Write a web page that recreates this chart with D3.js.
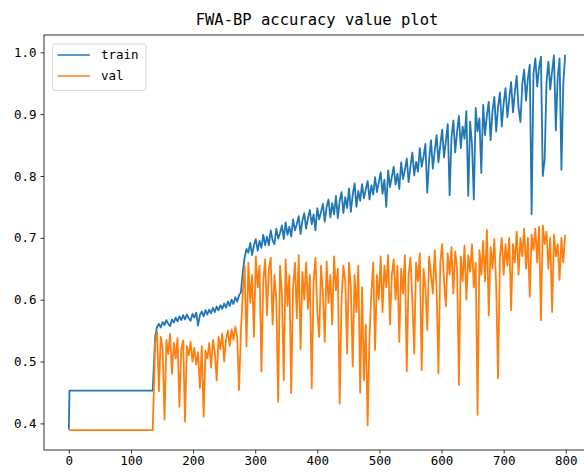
<!DOCTYPE html>
<html>
<head>
<meta charset="utf-8">
<script src="https://cdn.jsdelivr.net/npm/d3@7"></script>
<style>
    body { margin: 0; background: #ffffff; overflow: hidden; }
    svg { display: block; }
</style>
</head>
<body>
<script>
// flat start of both curves (epoch, value)
var trainStart = [[0, 0.390], [1, 0.453], [135, 0.453]];
var valStart = [[0, 0.389], [135, 0.389]];

// after epoch 135 values read every 3 epochs (139, 142, ... 799)
var noisyEpochs = d3.range(139, 800, 3);

var trainAcc = [
    0.540, 0.556, 0.561, 0.555, 0.564, 0.559, 0.567, 0.561, 0.557, 0.568,
    0.563, 0.571, 0.565, 0.573, 0.567, 0.575, 0.568, 0.576, 0.570, 0.566,
    0.577, 0.571, 0.579, 0.558, 0.575, 0.581, 0.573, 0.583, 0.576, 0.584,
    0.578, 0.587, 0.580, 0.589, 0.583, 0.591, 0.585, 0.594, 0.587, 0.597,
    0.590, 0.600, 0.593, 0.604, 0.597, 0.607, 0.612, 0.645, 0.668, 0.682,
    0.676, 0.692, 0.672, 0.688, 0.698, 0.679, 0.695, 0.684, 0.705, 0.688,
    0.702, 0.688, 0.712, 0.696, 0.690, 0.715, 0.699, 0.708, 0.720, 0.698,
    0.725, 0.705, 0.718, 0.702, 0.730, 0.712, 0.722, 0.735, 0.706, 0.728,
    0.740, 0.715, 0.732, 0.745, 0.722, 0.738, 0.712, 0.748, 0.730, 0.742,
    0.755, 0.726, 0.750, 0.762, 0.733, 0.756, 0.738, 0.768, 0.732, 0.760,
    0.774, 0.740, 0.766, 0.748, 0.780, 0.742, 0.770, 0.788, 0.750, 0.776,
    0.760, 0.787, 0.764, 0.778, 0.792, 0.762, 0.785, 0.770, 0.798, 0.774,
    0.790, 0.806, 0.771, 0.794, 0.750, 0.809, 0.782, 0.799, 0.815, 0.786,
    0.804, 0.779, 0.822, 0.795, 0.810, 0.828, 0.790, 0.816, 0.838, 0.801,
    0.823, 0.807, 0.845, 0.815, 0.831, 0.852, 0.773, 0.826, 0.858, 0.812,
    0.840, 0.866, 0.822, 0.850, 0.875, 0.830, 0.857, 0.884, 0.769, 0.862,
    0.890, 0.838, 0.872, 0.897, 0.845, 0.880, 0.860, 0.905, 0.768, 0.888,
    0.851, 0.762, 0.910, 0.872, 0.893, 0.805, 0.915, 0.866, 0.898, 0.920,
    0.858, 0.905, 0.928, 0.872, 0.912, 0.935, 0.880, 0.918, 0.942, 0.895,
    0.925, 0.952, 0.903, 0.935, 0.962, 0.910, 0.887, 0.948, 0.972, 0.922,
    0.958, 0.980, 0.738, 0.965, 0.990, 0.945, 0.975, 0.993, 0.800, 0.826,
    0.952, 0.985, 0.940, 0.970, 0.995, 0.874, 0.960, 0.990, 0.810, 0.948,
    0.996
];

var valAcc = [
    0.530, 0.548, 0.452, 0.540, 0.520, 0.406, 0.535, 0.512, 0.545, 0.480,
    0.530, 0.505, 0.538, 0.427, 0.520, 0.534, 0.403, 0.525, 0.510, 0.532,
    0.500, 0.522, 0.495, 0.515, 0.457, 0.525, 0.411, 0.518, 0.505, 0.530,
    0.490, 0.535, 0.515, 0.470, 0.540, 0.520, 0.545, 0.500, 0.535, 0.550,
    0.525, 0.552, 0.535, 0.556, 0.540, 0.454, 0.548, 0.610, 0.655, 0.524,
    0.660, 0.595, 0.640, 0.540, 0.670, 0.620, 0.655, 0.484, 0.630, 0.665,
    0.575, 0.650, 0.668, 0.560, 0.640, 0.600, 0.435, 0.655, 0.610, 0.470,
    0.665, 0.590, 0.640, 0.449, 0.620, 0.660, 0.570, 0.672, 0.520, 0.645,
    0.600, 0.660, 0.585, 0.640, 0.457, 0.630, 0.668, 0.580, 0.540, 0.655,
    0.610, 0.532, 0.662, 0.595, 0.640, 0.560, 0.670, 0.615, 0.650, 0.432,
    0.600, 0.655, 0.630, 0.513, 0.660, 0.620, 0.492, 0.640, 0.580, 0.655,
    0.450, 0.620, 0.470, 0.560, 0.397, 0.540, 0.610, 0.660, 0.519, 0.640,
    0.600, 0.670, 0.580, 0.655, 0.620, 0.672, 0.560, 0.640, 0.665, 0.600,
    0.655, 0.532, 0.650, 0.610, 0.672, 0.484, 0.640, 0.668, 0.600, 0.513,
    0.660, 0.630, 0.675, 0.486, 0.650, 0.620, 0.551, 0.670, 0.640, 0.610,
    0.680, 0.620, 0.481, 0.660, 0.690, 0.630, 0.589, 0.675, 0.640, 0.685,
    0.610, 0.678, 0.650, 0.462, 0.670, 0.630, 0.688, 0.600, 0.672, 0.645,
    0.690, 0.620, 0.660, 0.414, 0.680, 0.640, 0.695, 0.630, 0.713, 0.575,
    0.685, 0.650, 0.698, 0.620, 0.473, 0.670, 0.700, 0.640, 0.690, 0.655,
    0.700, 0.583, 0.690, 0.660, 0.710, 0.640, 0.700, 0.670, 0.715, 0.650,
    0.700, 0.605, 0.705, 0.680, 0.715, 0.660, 0.718, 0.567, 0.720, 0.690,
    0.710, 0.650, 0.700, 0.580, 0.705, 0.670, 0.690, 0.632, 0.700, 0.660,
    0.705
];

var xTicks = [0, 100, 200, 300, 400, 500, 600, 700, 800];
var yTicks = [0.4, 0.5, 0.6, 0.7, 0.8, 0.9, 1.0];
var seriesNames = ["train", "val"];
var seriesColors = ["#1f77b4", "#ff7f0e"];

window.onload = function() {
    var w = 584, h = 474;
    // axes box (right edge runs past the picture like the original)
    var left = 44, right = 590, top = 35, bottom = 450;
    var font = "'DejaVu Sans Mono', 'Liberation Mono', monospace";

    var svg = d3.select("body")
        .append("svg")
        .attr("width", w)
        .attr("height", h);

    var x = d3.scaleLinear().domain([-40, 839]).range([left, right]);
    var y = d3.scaleLinear().domain([0.357, 1.028]).range([bottom, top]);

    // join flat start and the noisy part
    var trainData = trainStart.concat(noisyEpochs.map(function(e, i) { return [e, trainAcc[i]]; }));
    var valData = valStart.concat(noisyEpochs.map(function(e, i) { return [e, valAcc[i]]; }));

    var line = d3.line()
        .x(function(d) { return x(d[0]); })
        .y(function(d) { return y(d[1]); });

    [trainData, valData].forEach(function(data, k) {
        svg.append("path")
            .datum(data)
            .attr("d", line)
            .attr("fill", "none")
            .attr("stroke", seriesColors[k])
            .attr("stroke-width", 1.8)
            .attr("stroke-linejoin", "round");
    });

    // x axis
    var xAxis = svg.append("g")
        .attr("transform", "translate(0," + bottom + ")")
        .call(d3.axisBottom(x).tickValues(xTicks).tickSize(3.5).tickPadding(3).tickFormat(d3.format("d")));
    // y axis
    var yAxis = svg.append("g")
        .attr("transform", "translate(" + left + ",0)")
        .call(d3.axisLeft(y).tickValues(yTicks).tickSize(3.5).tickPadding(4).tickFormat(d3.format(".1f")));

    [xAxis, yAxis].forEach(function(a) {
        a.select(".domain").remove();
        a.selectAll(".tick line").attr("stroke", "#000").attr("stroke-width", 0.8);
        a.selectAll(".tick text")
            .attr("fill", "#000")
            .style("font-family", font)
            .style("font-size", "12.5px");
    });

    // spines
    svg.append("rect")
        .attr("x", left)
        .attr("y", top)
        .attr("width", right - left)
        .attr("height", bottom - top)
        .attr("fill", "none")
        .attr("stroke", "#000")
        .attr("stroke-width", 0.8);

    // title
    svg.append("text")
        .attr("x", (left + right) / 2)
        .attr("y", 25)
        .attr("text-anchor", "middle")
        .style("font-family", font)
        .style("font-size", "15.5px")
        .text("FWA-BP accuracy value plot");

    // legend
    var legend = svg.append("g");
    legend.append("rect")
        .attr("x", 52.5)
        .attr("y", 44)
        .attr("width", 93.5)
        .attr("height", 46.5)
        .attr("rx", 2.5)
        .attr("fill", "#fff")
        .attr("fill-opacity", 0.8)
        .attr("stroke", "#d0d0d0")
        .attr("stroke-width", 0.8);

    seriesNames.forEach(function(name, k) {
        var ly = 55 + k * 21;
        legend.append("line")
            .attr("x1", 57.5)
            .attr("x2", 90)
            .attr("y1", ly)
            .attr("y2", ly)
            .attr("stroke", seriesColors[k])
            .attr("stroke-width", 1.5);
        legend.append("text")
            .attr("x", 101)
            .attr("y", ly)
            .attr("dy", "0.35em")
            .style("font-family", font)
            .style("font-size", "12.5px")
            .text(name);
    });
};
</script>
</body>
</html>
